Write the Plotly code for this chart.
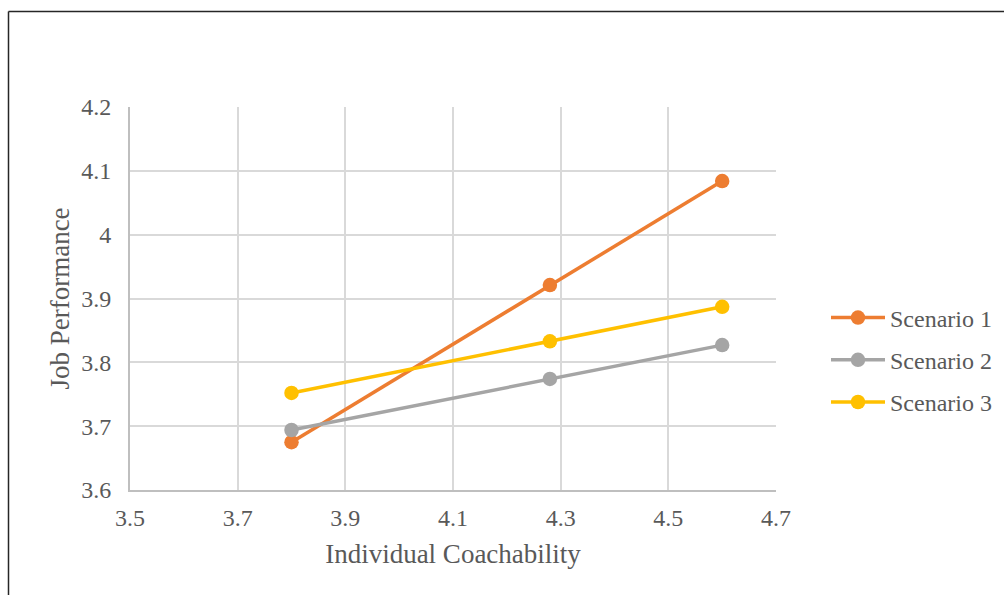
import plotly.graph_objects as go

# Individual coachability levels (x) and job performance per scenario (y)
coachability = [3.8, 4.28, 4.6]
scenario_1 = [3.675, 3.921, 4.084]
scenario_2 = [3.694, 3.774, 3.827]
scenario_3 = [3.752, 3.833, 3.887]

series_names = ["Scenario 1", "Scenario 2", "Scenario 3"]
series_values = [scenario_1, scenario_2, scenario_3]
series_colors = ["#ED7D31", "#A5A5A5", "#FFC000"]

x_ticks = [3.5, 3.7, 3.9, 4.1, 4.3, 4.5, 4.7]
y_ticks = [3.6, 3.7, 3.8, 3.9, 4.0, 4.1, 4.2]
y_tick_text = ["3.6", "3.7", "3.8", "3.9", "4", "4.1", "4.2"]

W, H = 1004, 595
ML, MR, MT, MB = 130, 228, 107, 105
font_family = "Liberation Serif, Times New Roman, serif"
text_color = "#595959"

fig = go.Figure()
for name, vals, color in zip(series_names, series_values, series_colors):
    fig.add_trace(go.Scatter(
        x=coachability, y=vals, name=name, mode="lines+markers",
        legendgroup=name,
        line=dict(color=color, width=3.5),
        marker=dict(color=color, size=14.5),
    ))

plot_w = W - ML - MR
plot_h = H - MT - MB


def px_to_paper_x(px):
    return (px - ML) / plot_w


def px_to_paper_y(py):
    return (H - MB - py) / plot_h


# outer chart frame (top and left edges visible)
border_x = px_to_paper_x(8.5)
border_y = px_to_paper_y(11.5)
fig.add_shape(type="line", xref="paper", yref="paper",
              x0=border_x, x1=border_x, y0=px_to_paper_y(H + 5), y1=border_y,
              line=dict(color="#262626", width=1.5))
fig.add_shape(type="line", xref="paper", yref="paper",
              x0=border_x, x1=px_to_paper_x(W + 5), y0=border_y, y1=border_y,
              line=dict(color="#262626", width=1.5))

fig.update_layout(
    width=W, height=H,
    margin=dict(l=ML, r=MR, t=MT, b=MB, autoexpand=False),
    paper_bgcolor="white", plot_bgcolor="white",
    font=dict(family=font_family, color=text_color, size=24),
    showlegend=True,
    legend=dict(
        x=px_to_paper_x(826), y=px_to_paper_y(360), xanchor="left", yanchor="middle",
        font=dict(size=24, color=text_color, family=font_family),
        itemwidth=54, tracegroupgap=8, traceorder="grouped",
        bgcolor="rgba(0,0,0,0)",
    ),
    xaxis=dict(
        range=[3.5, 4.7], tickvals=x_ticks, ticktext=[f"{v:.1f}" for v in x_ticks],
        showgrid=True, gridcolor="#D9D9D9", gridwidth=2,
        showline=True, linecolor="#BFBFBF", linewidth=2,
        zeroline=False, ticks="", ticklabelstandoff=5,
        tickfont=dict(size=24),
        title=dict(text="Individual Coachability", font=dict(size=27), standoff=14),
    ),
    yaxis=dict(
        range=[3.6, 4.2], tickvals=y_ticks, ticktext=y_tick_text,
        showgrid=True, gridcolor="#D9D9D9", gridwidth=2,
        showline=True, linecolor="#BFBFBF", linewidth=2,
        zeroline=False, ticks="", ticklabelstandoff=12,
        tickfont=dict(size=24),
        title=dict(text="Job Performance", font=dict(size=27), standoff=4),
    ),
)

fig.write_html("out.html")
